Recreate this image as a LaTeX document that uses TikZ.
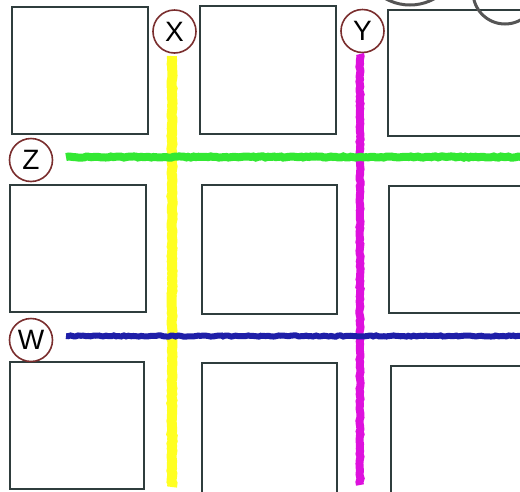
\documentclass[tikz,border=0pt]{standalone}
\usepackage{fontspec}
\setmainfont{Liberation Sans}
\usetikzlibrary{decorations.pathmorphing}
\definecolor{boxline}{HTML}{2F3D3D}
\definecolor{circred}{HTML}{7A2E2E}
\definecolor{hlyellow}{HTML}{FFFF22}
\definecolor{hlmagenta}{HTML}{DD11DD}
\definecolor{hlgreen}{HTML}{33E833}
\definecolor{hlblue}{HTML}{1F1FA8}
\definecolor{arcgray}{HTML}{555555}
\begin{document}
\begin{tikzpicture}[x=1pt,y=-1pt,
  box/.style={draw=boxline,line width=2pt},
  lbl/.style={circle,draw=circred,line width=1.6pt,fill=white,minimum size=43pt,inner sep=0pt,font=\fontsize{28}{28}\selectfont},
  marker/.style={line width=#1, decorate, decoration={random steps,segment length=2.5pt,amplitude=0.6pt}},
  marker/.default=8pt]
\useasboundingbox (0,0) rectangle (520,491);
\clip (0,0) rectangle (520,491);
\fill[white] (0,0) rectangle (520,491);
% boxes
\draw[box] (12,7) rectangle (148,134);
\draw[box] (200,6) rectangle (336,134);
\draw[box] (388,10) rectangle (530,136);
\draw[box] (10,185) rectangle (146,312);
\draw[box] (202,185) rectangle (337,314);
\draw[box] (389,186) rectangle (530,313);
\draw[box] (10,362) rectangle (144,489);
\draw[box] (202,363) rectangle (337,495);
\draw[box] (391,366) rectangle (530,495);
% gray arcs at top
\draw[arcgray,line width=3pt] (410,-45) circle[radius=50];
\draw[arcgray,line width=3pt] (505,-8) circle[radius=32];
% labels
\node[lbl] (X) at (174.5,31.5) {X};
\node[lbl] (Y) at (362.5,31) {Y};
\node[lbl] (Z) at (31,160) {Z};
\node[lbl] (W) at (31,340) {W};
\coordinate (xend) at (172,487);
\coordinate (yend) at (360,485);
\coordinate (zend) at (522,157);
\coordinate (wend) at (522,336);
\coordinate (xstart) at (172,56);
\coordinate (ystart) at (360,54);
\coordinate (zstart) at (66,157);
\coordinate (wstart) at (66,336);
% marker lines
\draw[hlyellow,marker=10pt] (xstart) -- (xend);
\draw[hlmagenta,marker=8pt] (ystart) -- (yend);
\draw[hlgreen,marker=8pt] (zstart) -- (zend);
\draw[hlblue,marker=6pt] (wstart) -- (wend);
\end{tikzpicture}
\end{document}
